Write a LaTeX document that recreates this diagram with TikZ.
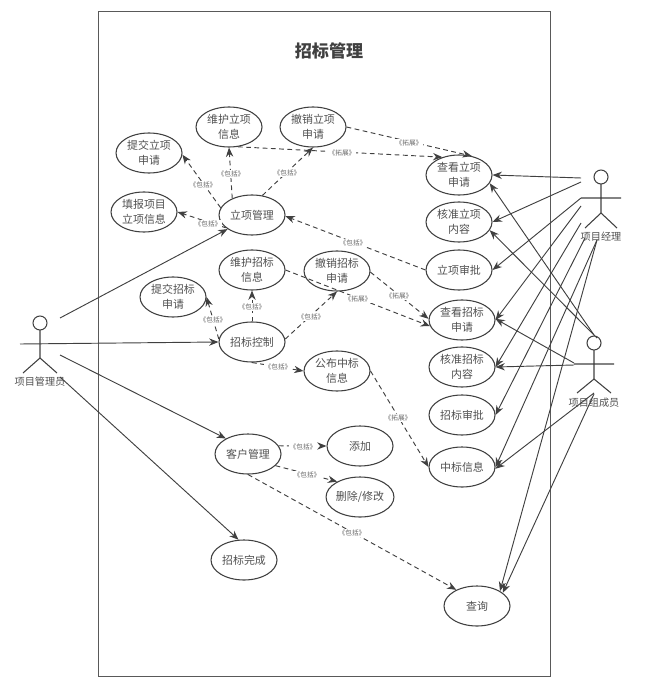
\documentclass[tikz,border=0pt]{standalone}
\usepackage{fontspec}
\setmainfont{Noto Sans CJK SC}
\usetikzlibrary{arrows.meta,shapes.geometric}
\definecolor{ink}{HTML}{404040}
\definecolor{txt}{HTML}{505050}
\tikzset{
  usecase/.style={draw=ink,line width=0.8pt,ellipse,minimum width=49.5pt,minimum height=30pt,inner sep=0pt,align=center,font=\fontsize{8.2}{11}\selectfont,text=txt},
  assoc/.style={draw=ink,line width=0.7pt,-{Stealth[length=7pt,width=5.5pt]}},
  dep/.style={draw=ink,line width=0.7pt,dash pattern=on 3.6pt off 2.6pt,-{Stealth[length=7pt,width=5.5pt]}},
  tag/.style={fill=white,inner sep=0.6pt,font=\fontsize{5}{6}\selectfont,text=black!60},
  stick/.style={draw=ink,line width=0.8pt},
  actorname/.style={font=\fontsize{7.6}{9}\selectfont,text=txt,inner sep=0pt}
}
\begin{document}
\begin{tikzpicture}[x=0.75pt,y=-0.75pt]
\useasboundingbox (0,0) rectangle (645,695);
\draw[draw=black!65,line width=0.75pt] (98,12) rectangle (550,676);
\node[font=\bfseries\fontsize{12.8}{15}\selectfont,text=ink,inner sep=0pt] (title) at (329,51) {招标管理};

% use cases
\node[usecase] (tjlx) at (149,153) {提交立项\\申请};
\node[usecase] (tblx) at (144,212) {填报项目\\立项信息};
\node[usecase] (whlx) at (229,127) {维护立项\\信息};
\node[usecase] (cxlx) at (313,127) {撤销立项\\申请};
\node[usecase] (lxgl) at (252,215) {立项管理};
\node[usecase] (whzb) at (252,270) {维护招标\\信息};
\node[usecase] (cxzb) at (337,271) {撤销招标\\申请};
\node[usecase] (tjzb) at (173,297) {提交招标\\申请};
\node[usecase] (zbkz) at (252,342) {招标控制};
\node[usecase] (gbzb) at (337,371) {公布中标\\信息};
\node[usecase] (cklx) at (459,175) {查看立项\\申请};
\node[usecase] (hzlx) at (459,222) {核准立项\\内容};
\node[usecase] (lxsp) at (459,270) {立项审批};
\node[usecase] (ckzb) at (462,320) {查看招标\\申请};
\node[usecase] (hzzb) at (462,367) {核准招标\\内容};
\node[usecase] (zbsp) at (462,415) {招标审批};
\node[usecase] (zbxx) at (462,467) {中标信息};
\node[usecase] (khgl) at (248,454) {客户管理};
\node[usecase] (tj) at (360,446) {添加};
\node[usecase] (sc) at (360,497) {删除/修改};
\node[usecase] (zbwc) at (244,560) {招标完成};
\node[usecase] (cx) at (477,606) {查询};

% actors
\draw[stick] (40,323) circle (7);
\draw[stick] (40,330) -- (40,358) (23,373) -- (40,358) -- (57,373);
\node[actorname] (admin) at (40,382) {项目管理员};
\draw[stick] (601,177) circle (7);
\draw[stick] (601,184) -- (601,213) (585,228) -- (601,213) -- (617,228) (581,198) -- (621,198);
\node[actorname] (pm) at (601,237) {项目经理};
\draw[stick] (594,343) circle (7);
\draw[stick] (594,350) -- (594,379) (577,393) -- (594,379) -- (611,393) (574,364) -- (614,364);
\node[actorname] (member) at (594,403) {项目组成员};

% free ends at the actors
\coordinate (a1) at (60,318);
\coordinate (a2) at (20,344);
\coordinate (a3) at (60,355);
\coordinate (a4) at (60,377);
\coordinate (p1) at (581,178);
\coordinate (p2) at (581,182);
\coordinate (p3) at (581,198);
\coordinate (p4) at (581,206);
\coordinate (p5) at (581,223);
\coordinate (p6) at (585,238);
\coordinate (p7) at (597,240);
\coordinate (p8) at (597,240);
\coordinate (m1) at (594,335);
\coordinate (m2) at (597,338);
\coordinate (m3) at (574,363);
\coordinate (m4) at (574,365);
\coordinate (m5) at (594,393);
\coordinate (m6) at (594,394);

% associations
\draw[assoc] (a1) -- (lxgl.210);
\draw[assoc] (a2) -- (zbkz.180);
\draw[assoc] (a3) -- (khgl.145);
\draw[assoc] (a4) -- (zbwc.105);
\draw[assoc] (p1) -- (cklx.0);
\draw[assoc] (p2) -- (hzlx.0);
\draw[assoc] (p3) -- (lxsp.0);
\draw[assoc] (p4) -- (ckzb.0);
\draw[assoc] (p5) -- (hzzb.0);
\draw[assoc] (p6) -- (zbsp.0);
\draw[assoc] (p7) -- (zbxx.0);
\draw[assoc] (p8) -- (cx.33);
\draw[assoc] (m1) -- (cklx.-15);
\draw[assoc] (m2) -- (hzlx.-15);
\draw[assoc] (m3) -- (ckzb.2);
\draw[assoc] (m4) -- (hzzb.0);
\draw[assoc] (m5) -- (zbxx.-3);
\draw[assoc] (m6) -- (cx.27);

% dependencies
\draw[dep] (lxgl.167) -- (tjlx.-3);
\draw[dep] (lxgl.206) -- (tblx.0);
\draw[dep] (lxgl.140) -- (whlx.-90);
\draw[dep] (lxgl.62) -- (cxlx.-90);
\draw[dep] (lxsp.180) -- (lxgl.-2);
\draw[dep] (whlx.-66) -- (cklx.133);
\draw[dep] (cxlx.0) -- (cklx.56);
\draw[dep] (whzb.0) -- (ckzb.191);
\draw[dep] (cxzb.-2) -- (ckzb.178);
\draw[dep] (zbkz.175) -- (tjzb.0);
\draw[dep] (zbkz.90) -- (whzb.-90);
\draw[dep] (zbkz.5) -- (cxzb.-90);
\draw[dep] (zbkz.-90) -- (gbzb.180);
\draw[dep] (gbzb.0) -- (zbxx.180);
\draw[dep] (khgl.15) -- (tj.180);
\draw[dep] (khgl.-23) -- (sc.146);
\draw[dep] (khgl.-90) -- (cx.142);

% stereotype labels
\node[tag] (t1) at (203,185) {《包括》};
\node[tag] (t2) at (208,224) {《包括》};
\node[tag] (t3) at (231,174) {《包括》};
\node[tag] (t4) at (287,173) {《包括》};
\node[tag] (t5) at (342,153) {《拓展》};
\node[tag] (t6) at (409,143) {《拓展》};
\node[tag] (t7) at (353,243) {《包括》};
\node[tag] (t8) at (358,299) {《拓展》};
\node[tag] (t9) at (399,296) {《拓展》};
\node[tag] (t10) at (213,320) {《包括》};
\node[tag] (t11) at (252,307) {《包括》};
\node[tag] (t12) at (311,317) {《包括》};
\node[tag] (t13) at (278,367) {《包括》};
\node[tag] (t14) at (398,418) {《拓展》};
\node[tag] (t15) at (303,447) {《包括》};
\node[tag] (t16) at (307,475) {《包括》};
\node[tag] (t17) at (352,533) {《包括》};
\end{tikzpicture}
\end{document}
